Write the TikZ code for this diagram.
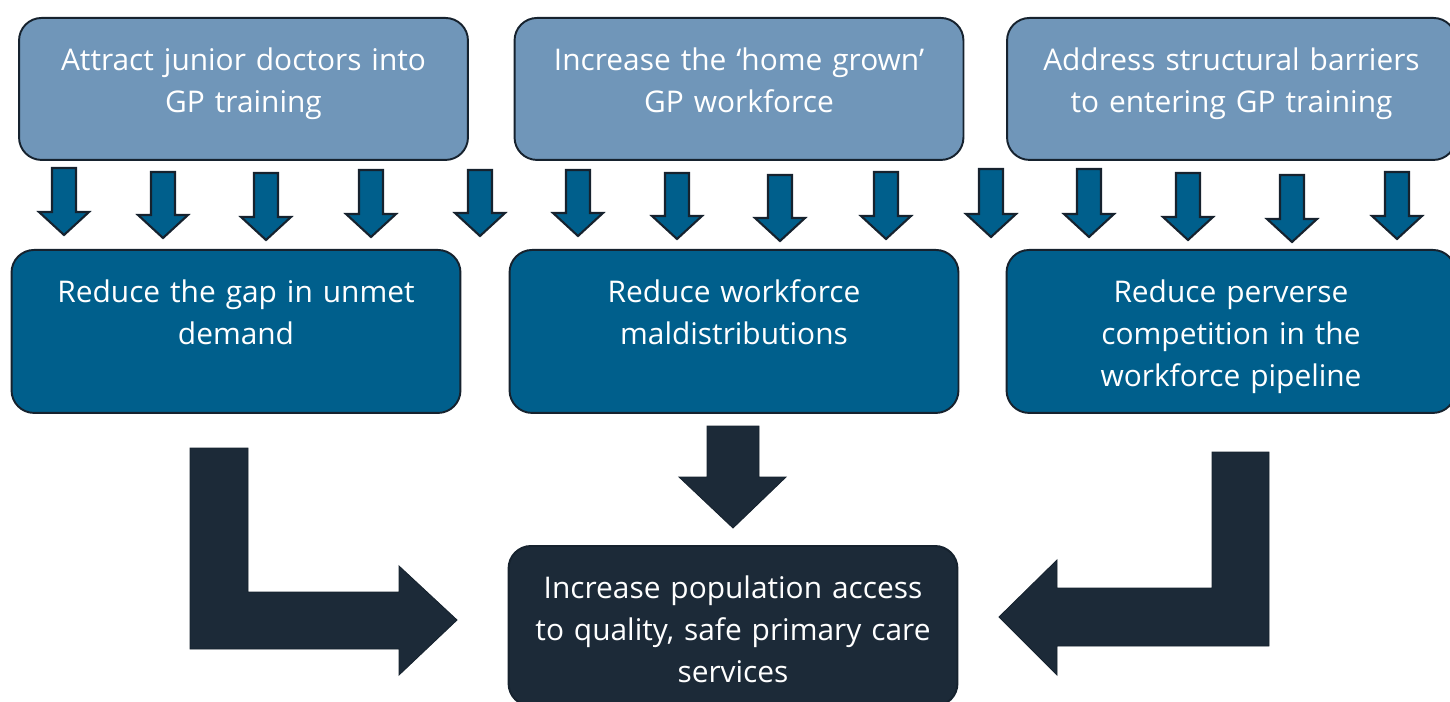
\documentclass[tikz,border=0pt]{standalone}
\usepackage{fontspec}
\setmainfont{Open Sans}
\usepackage{tikz}
\definecolor{pathlight}{RGB}{112,150,185}
\definecolor{pathmid}{RGB}{0,95,140}
\definecolor{pathdark}{RGB}{28,42,56}
\definecolor{pathedge}{RGB}{22,34,46}

\tikzset{
  panel/.style={draw=pathedge, line width=1.1pt, rounded corners=0.45cm, text=white,
    text width=8.98cm, align=center, inner xsep=0pt, inner ysep=0pt, anchor=north,
    text height=1.06cm, font=\fontsize{17}{23.8}\selectfont},
  aimbox/.style={panel, fill=pathlight, text depth=1.78cm},
  actionbox/.style={panel, fill=pathmid, text depth=2.2cm},
  goalbox/.style={panel, fill=pathdark, text depth=2.14cm},
  smallarrow/.style={fill=pathmid, draw=pathedge, line width=1.2pt},
  bigarrow/.style={fill=pathdark, draw=pathedge, line width=0.5pt}
}

\begin{document}
\begin{tikzpicture}[x=0.02cm,y=-0.02cm]
\useasboundingbox (0,0) rectangle (1450,702);

% Aims
\node[aimbox] (attract) at (243.5,17) {Attract junior doctors into\\GP training};
\node[aimbox] (homegrown) at (739,17) {Increase the `home grown'\\GP workforce};
\node[aimbox] (barriers) at (1231.5,17) {Address structural barriers\\to entering GP training};

% Row of arrows
\foreach \x/\top/\tip in {64/168/235, 163/172/238, 266/173/240, 371/170/237, 480/170/236,
    578/170/236, 677/173/239, 780/175/241, 886/172/239, 991/169/237, 1089/169/237,
    1188/173/240, 1292/175/242, 1397/172/239} {
  \draw[smallarrow] (\x-12,\top) -- (\x+12,\top) -- (\x+12,\tip-23) -- (\x+25,\tip-23)
    -- (\x,\tip) -- (\x-25,\tip-23) -- (\x-12,\tip-23) -- cycle;
}

% Actions
\node[actionbox] (unmet) at (236,249) {Reduce the gap in unmet\\demand};
\node[actionbox] (maldist) at (734,249) {Reduce workforce\\maldistributions};
\node[actionbox] (perverse) at (1231,249) {Reduce perverse\\competition in the\\workforce pipeline};

% Outcome
\node[goalbox] (access) at (733,545) {Increase population access\\to quality, safe primary care\\services};

% Big arrows
\draw[bigarrow] (190,448) -- (248,448) -- (248,592) -- (399,592) -- (399,566) -- (457,620)
  -- (399,675) -- (399,649) -- (190,649) -- cycle;
\draw[bigarrow] (707,426) -- (759,426) -- (759,477) -- (786,477) -- (733,528) -- (679,477)
  -- (707,477) -- cycle;
\draw[bigarrow] (1269,452) -- (1212,452) -- (1212,588) -- (1057,588) -- (1057,560) -- (999,617)
  -- (1057,675) -- (1057,646) -- (1269,646) -- cycle;
\end{tikzpicture}
\end{document}
